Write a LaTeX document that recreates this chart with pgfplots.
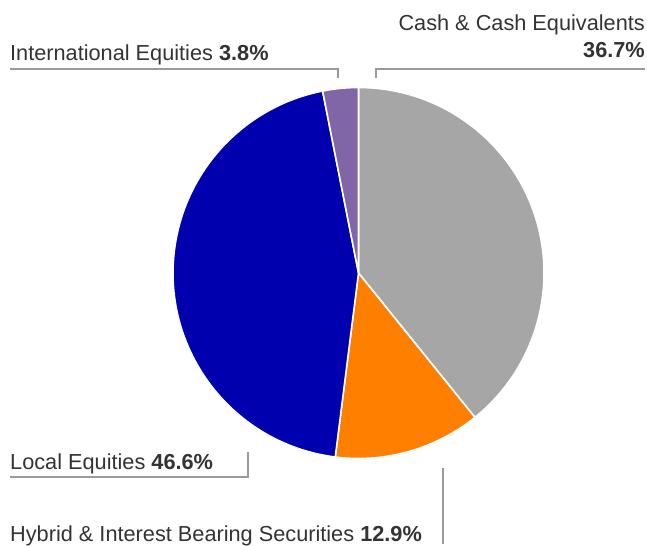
\documentclass[border=0pt]{standalone}
\usepackage{pgfplots}
\pgfplotsset{compat=1.18}
\usepackage{fontspec}
\setmainfont{Liberation Sans}
\definecolor{cgray}{HTML}{A6A6A6}
\definecolor{corange}{HTML}{FF7F00}
\definecolor{cblue}{HTML}{0000AF}
\definecolor{cpurple}{HTML}{8066A6}
\definecolor{ctext}{HTML}{333333}
\definecolor{cline}{HTML}{9A9A9A}
\tikzset{lbl/.style={font=\fontsize{21.8}{26}\selectfont, text=ctext, inner sep=0pt}}
\begin{document}
\begin{tikzpicture}
% shares as drawn (percent), clockwise from 12 o'clock
\pgfmathsetmacro\aA{90}
\pgfmathsetmacro\aB{\aA-3.6*39.2}% Cash & Cash Equivalents
\pgfmathsetmacro\aC{\aB-3.6*12.8}% Hybrid & Interest Bearing Securities
\pgfmathsetmacro\aD{\aC-3.6*44.9}% Local Equities
\pgfmathsetmacro\aE{\aD-3.6*3.1}% International Equities
\begin{axis}[
  width=647bp, height=544bp, scale only axis,
  xmin=0, xmax=647, ymin=0, ymax=544, y dir=reverse,
  hide axis, clip=false,
]
\path (axis cs:0,0) rectangle (axis cs:647,544);
\newcommand{\slice}[3]{%
  \filldraw[fill=#3, draw=white, line width=1.6bp, line join=round]
    (axis cs:358.5,273) -- ++(#1:185.5bp) arc[start angle=#1, end angle=#2, radius=185.5bp] -- cycle;}
\slice{\aA}{\aB}{cgray}
\slice{\aB}{\aC}{corange}
\slice{\aC}{\aD}{cblue}
\slice{\aD}{\aE}{cpurple}
% leader lines
\draw[cline, line width=1.2bp] (axis cs:376,78) -- (axis cs:376,69) -- (axis cs:645,69);
\draw[cline, line width=1.2bp] (axis cs:10,69) -- (axis cs:338,69) -- (axis cs:338,78);
\draw[cline, line width=1.2bp] (axis cs:10,477) -- (axis cs:248,477) -- (axis cs:248,452);
\draw[cline, line width=1.2bp] (axis cs:443,468) -- (axis cs:443,544);
% labels
\node[lbl, anchor=base east] at (axis cs:645,30) {Cash \& Cash Equivalents};
\node[lbl, anchor=base east] at (axis cs:645,57) {\bfseries 36.7\%};
\node[lbl, anchor=base west] at (axis cs:10,60) {International Equities \textbf{3.8\%}};
\node[lbl, anchor=base west] at (axis cs:10,469) {Local Equities \textbf{46.6\%}};
\node[lbl, anchor=base west] at (axis cs:10,541) {Hybrid \& Interest Bearing Securities \textbf{12.9\%}};
\end{axis}
\end{tikzpicture}
\end{document}
